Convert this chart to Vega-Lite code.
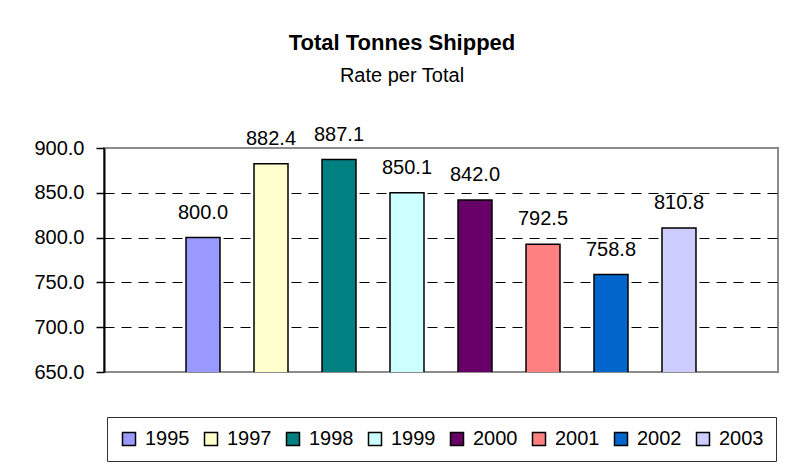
{
  "$schema": "https://vega.github.io/schema/vega-lite/v6.json",
  "width": 674,
  "height": 224,
  "autosize": {"type": "none"},
  "padding": {"left": 104, "top": 148, "right": 7, "bottom": 93},
  "background": "white",
  "title": {
    "text": "Total Tonnes Shipped",
    "subtitle": "Rate per Total",
    "anchor": "middle",
    "frame": "group",
    "dx": -39,
    "offset": 38,
    "font": "Liberation Sans",
    "fontSize": 22,
    "fontWeight": "bold",
    "color": "black",
    "subtitleFont": "Liberation Sans",
    "subtitleFontSize": 20,
    "subtitleColor": "black",
    "subtitlePadding": 11
  },
  "data": {
    "values": [
      {"year": "1995", "value": 800.0},
      {"year": "1997", "value": 882.4},
      {"year": "1998", "value": 887.1},
      {"year": "1999", "value": 850.1},
      {"year": "2000", "value": 842.0},
      {"year": "2001", "value": 792.5},
      {"year": "2002", "value": 758.8},
      {"year": "2003", "value": 810.8}
    ]
  },
  "encoding": {
    "x": {
      "field": "year",
      "type": "nominal",
      "scale": {"paddingInner": 0.088, "paddingOuter": 1},
      "axis": null
    },
    "y": {
      "field": "value",
      "type": "quantitative",
      "scale": {"domain": [650, 900], "zero": false, "nice": false},
      "axis": {
        "title": null,
        "values": [650, 700, 750, 800, 850, 900],
        "format": ".1f",
        "labelFont": "Liberation Sans",
        "labelFontSize": 20,
        "labelColor": "black",
        "labelPadding": 12,
        "tickSize": 8,
        "tickColor": "black",
        "tickWidth": 1.5,
        "domainColor": "black",
        "domainWidth": 2,
        "grid": true,
        "gridColor": "black",
        "gridDash": [10, 7],
        "gridWidth": 1,
        "gridOpacity": {"condition": {"test": "datum.value == 650 || datum.value == 900", "value": 0}, "value": 1}
      }
    }
  },
  "layer": [
    {
      "mark": {"type": "bar", "stroke": "black", "strokeWidth": 1.5, "clip": true, "width": {"band": 0.548}},
      "encoding": {
        "color": {
          "field": "year",
          "type": "nominal",
          "scale": {
            "domain": ["1995", "1997", "1998", "1999", "2000", "2001", "2002", "2003"],
            "range": ["#9999FF", "#FFFFCC", "#008080", "#CCFFFF", "#660066", "#FF8080", "#0066CC", "#CCCCFF"]
          },
          "legend": {
            "orient": "none",
            "legendX": 3,
            "legendY": 269,
            "direction": "horizontal",
            "columns": 8,
            "title": null,
            "strokeColor": "#333333",
            "fillColor": "white",
            "padding": 12,
            "symbolType": "square",
            "symbolSize": 169,
            "symbolStrokeColor": "black",
            "symbolStrokeWidth": 1.5,
            "symbolOpacity": 1,
            "labelFont": "Liberation Sans",
            "labelFontSize": 20,
            "labelColor": "black",
            "labelOffset": 6,
            "columnPadding": 11
          }
        }
      }
    },
    {
      "mark": {
        "type": "text",
        "baseline": "alphabetic",
        "dy": -19,
        "font": "Liberation Sans",
        "fontSize": 20,
        "color": "black"
      },
      "encoding": {
        "text": {"field": "value", "type": "quantitative", "format": ".1f"}
      }
    }
  ],
  "config": {
    "view": {"stroke": "#8c8c8c", "strokeWidth": 2}
  }
}
